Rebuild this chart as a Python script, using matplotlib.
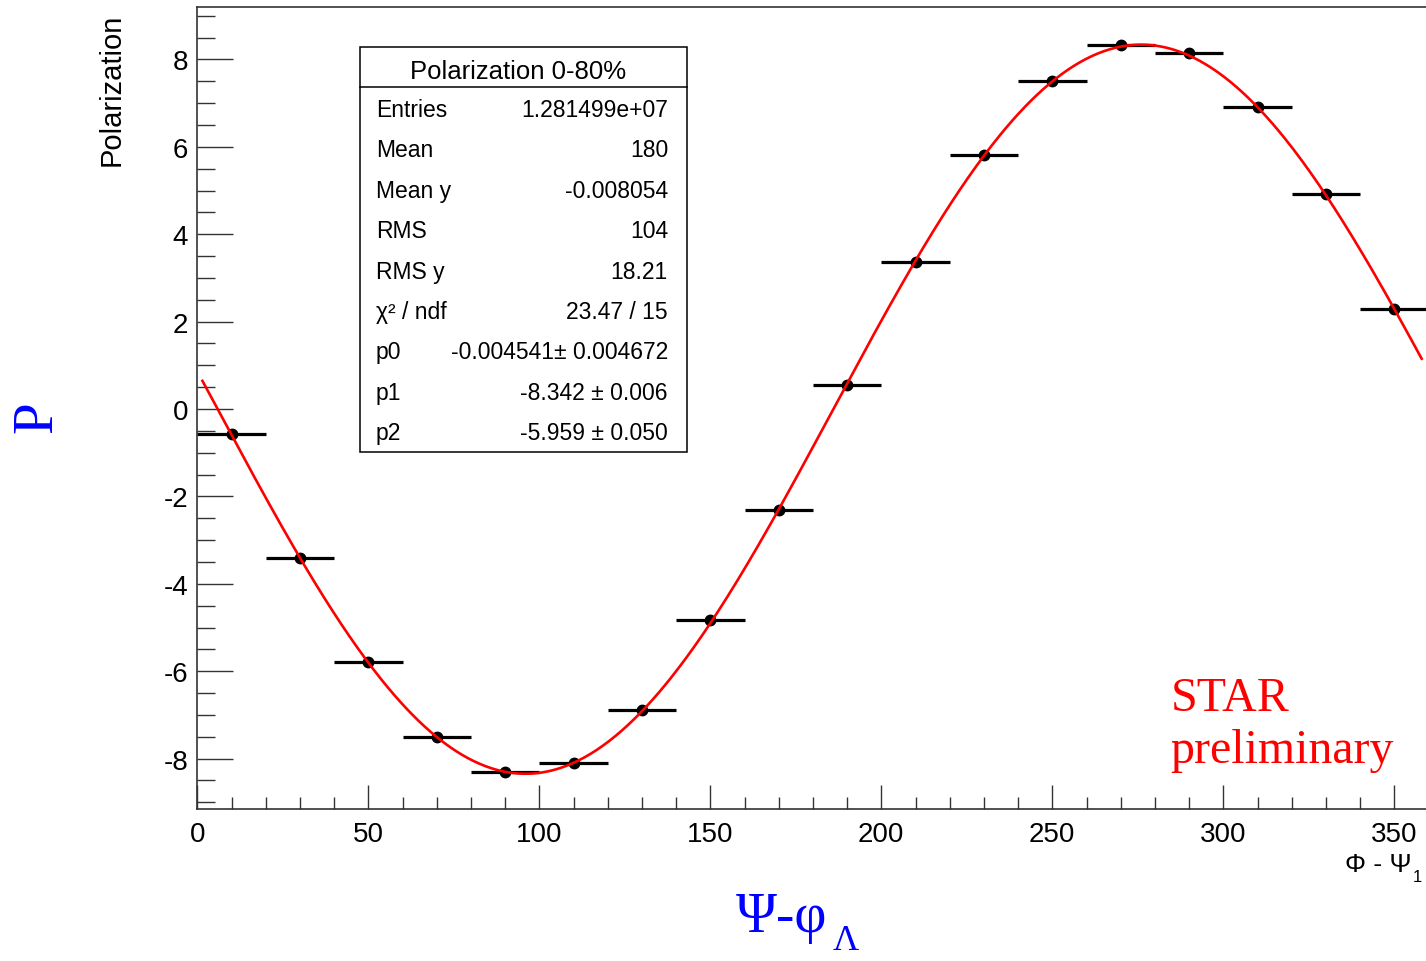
import numpy as np
import matplotlib
matplotlib.use("Agg")
import matplotlib.pyplot as plt
from matplotlib.ticker import MultipleLocator
from matplotlib.patches import Rectangle
from matplotlib.lines import Line2D

# --- Data ---
bin_centers = [10, 30, 50, 70, 90, 110, 130, 150, 170,
               190, 210, 230, 250, 270, 290, 310, 330, 350]
polarization = [-0.57, -3.41, -5.79, -7.50, -8.30, -8.10, -6.89, -4.83, -2.31,
                0.55, 3.37, 5.82, 7.50, 8.33, 8.15, 6.91, 4.92, 2.29]
bin_width = 20

# fit parameters from the stats box: p0 + p1*sin(x + p2) (degrees)
p0, p1, p2 = -0.004541, -8.342, -5.959

stats_title = "Polarization 0-80%"
stats_names = ["Entries", "Mean", "Mean y", "RMS", "RMS y",
               "χ² / ndf", "p0", "p1", "p2"]
stats_values = ["1.281499e+07", "180", "-0.008054", "104", "18.21",
                "23.47 / 15", "-0.004541± 0.004672", "-8.342 ± 0.006",
                "-5.959 ± 0.050"]

W, H = 1426, 962
plt.rcParams["axes.unicode_minus"] = False
NARROW = ["Liberation Sans Narrow", "Liberation Sans", "DejaVu Sans"]
SANS = ["Liberation Sans", "DejaVu Sans"]
SERIF = ["Liberation Serif", "DejaVu Serif"]


def fx(px):
    return px / W


def fy(py):
    return 1 - py / H


fig = plt.figure(figsize=(W / 100, H / 100), dpi=100)
ax_left, ax_right, ax_top, ax_bottom = 197.3, 1428.5, 8.3, 810
ax = fig.add_axes([fx(ax_left), fy(ax_bottom),
                   (ax_right - ax_left) / W, (ax_bottom - ax_top) / H])

# fit curve
xf = np.linspace(1.5, 358, 600)
ax.plot(xf, p0 + p1 * np.sin(np.radians(xf + p2)), color="red", lw=1.9, zorder=3)

# histogram points with bin-width bars
ax.errorbar(bin_centers, polarization, xerr=bin_width / 2, fmt="o",
            color="black", ms=7.5, elinewidth=2.3, capsize=0, zorder=2)

ax.set_xlim(0, 360)
ax.set_ylim((410 - ax_bottom) / 43.7, (410 - ax_top) / 43.7)

ax.xaxis.set_major_locator(MultipleLocator(50))
ax.xaxis.set_minor_locator(MultipleLocator(10))
ax.yaxis.set_major_locator(MultipleLocator(2))
ax.yaxis.set_minor_locator(MultipleLocator(0.5))
ax.tick_params(axis="both", which="both", direction="in", width=1.0,
               color="#333333", top=False, right=False)
ax.tick_params(axis="y", which="major", length=26, pad=6.5)
ax.tick_params(axis="y", which="minor", length=13)
ax.tick_params(axis="x", which="major", length=17, pad=8.5)
ax.tick_params(axis="x", which="minor", length=8.6)
for lab in ax.get_xticklabels() + ax.get_yticklabels():
    lab.set_family(NARROW)
    lab.set_fontsize(20)
for s in ax.spines.values():
    s.set_linewidth(1.2)
    s.set_color("#333333")

# stats box
fig.patches.append(Rectangle((fx(360), fy(453)), fx(686.7) - fx(360), fy(48) - fy(453),
                             transform=fig.transFigure, fill=True, facecolor="white",
                             edgecolor="black", lw=1.1, zorder=5))
fig.lines.append(Line2D([fx(360), fx(686.7)], [fy(88), fy(88)],
                        transform=fig.transFigure, color="black", lw=1.1, zorder=6))
fig.text(fx(518), fy(79), stats_title, ha="center", va="baseline",
         family=NARROW, fontsize=18.5, zorder=7)
for i, (name, val) in enumerate(zip(stats_names, stats_values)):
    base = 117 + i * 40.4
    fig.text(fx(375.7), fy(base), name, ha="left", va="baseline",
             family=NARROW, fontsize=16.5, zorder=7)
    fig.text(fx(668), fy(base), val, ha="right", va="baseline",
             family=NARROW, fontsize=16.5, zorder=7)

# axis titles
fig.text(fx(112), fy(14), "Polarization", rotation=90, ha="center", va="top",
         family=SANS, fontsize=21)
fig.text(fx(1345), fy(872), "Φ - Ψ", ha="left", va="baseline",
         family=NARROW, fontsize=19)
fig.text(fx(1413), fy(882), "1", ha="left", va="baseline",
         family=NARROW, fontsize=12)

# slide annotations
fig.text(fx(37), fy(417), "P", rotation=90, ha="center", va="center",
         family=SERIF, fontsize=41, color="blue")
fig.text(fx(736), fy(932), "Ψ-φ", ha="left", va="baseline",
         family=SERIF, fontsize=40, color="blue")
fig.text(fx(833), fy(950), "Λ", ha="left", va="baseline",
         family=SERIF, fontsize=26, color="blue")
fig.text(fx(1171), fy(711), "STAR", ha="left", va="baseline",
         family=SERIF, fontsize=34.5, color="red")
fig.text(fx(1170), fy(763), "preliminary", ha="left", va="baseline",
         family=SERIF, fontsize=34.5, color="red")

fig.savefig("out.png", dpi=100)
